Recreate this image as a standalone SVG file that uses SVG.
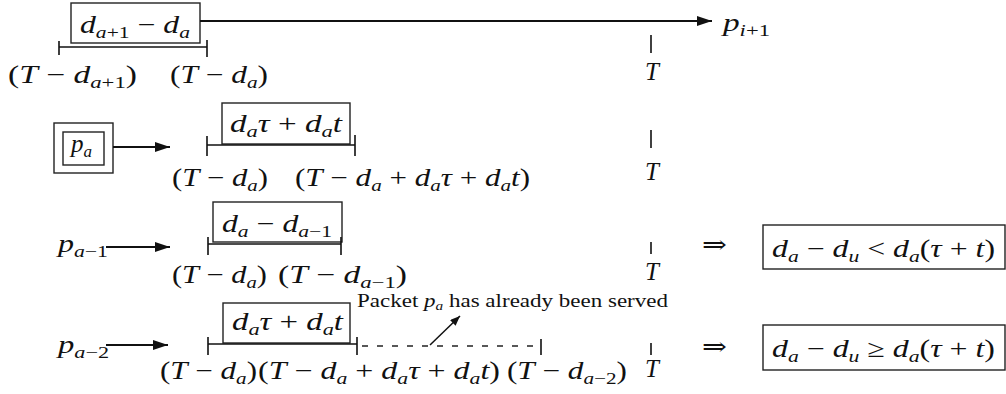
<svg xmlns="http://www.w3.org/2000/svg" width="1006" height="394" viewBox="0 0 1006 394" font-family="Liberation Serif, DejaVu Serif, serif">
<style>
.bg{fill:#fff}
.m{font-family:"Liberation Serif","DejaVu Serif",serif;font-size:25px;fill:#111}
.i{font-style:italic}
.s{font-size:17px}
.sm{font-family:"Liberation Serif","DejaVu Serif",serif;font-size:18px;fill:#111}
.box{fill:none;stroke:#222;stroke-width:1.4}
.ln{fill:none;stroke:#111;stroke-width:1.7}
.tk{fill:none;stroke:#111;stroke-width:1.6}
.dash{fill:none;stroke:#222;stroke-width:1.3;stroke-dasharray:6 9}
.arr{fill:none;stroke:#111;stroke-width:2;marker-end:url(#ah)}
.arr2{fill:none;stroke:#111;stroke-width:1.5;marker-end:url(#ah2)}
</style>
<defs>
<marker id="ah" viewBox="0 0 15 10" refX="15" refY="5" markerWidth="15" markerHeight="10" markerUnits="userSpaceOnUse" orient="auto"><path d="M0,0 L15,5 L0,10 z" fill="#111"/></marker>
<marker id="ah2" viewBox="0 0 10 8" refX="10" refY="4" markerWidth="10" markerHeight="8" markerUnits="userSpaceOnUse" orient="auto"><path d="M0,0 L10,4 L0,8 z" fill="#111"/></marker>
</defs>
<rect class="bg" x="0" y="0" width="1006" height="394"/>

<g id="row1">
<rect class="box" x="71" y="3" width="129" height="40"/>
<text class="m" x="80" y="33" textLength="110" lengthAdjust="spacingAndGlyphs"><tspan class="i">d</tspan><tspan class="s i" dy="5">a</tspan><tspan class="s" dy="0">+1</tspan><tspan dy="-5"> − </tspan><tspan class="i">d</tspan><tspan class="s i" dy="5">a</tspan></text>
<path class="ln" d="M59,47 H207"/>
<path class="tk" d="M59,41 V55 M207,40 V57"/>
<text class="m" x="8" y="83" textLength="129" lengthAdjust="spacingAndGlyphs">(<tspan class="i">T</tspan> − <tspan class="i">d</tspan><tspan class="s i" dy="5">a</tspan><tspan class="s">+1</tspan><tspan dy="-5">)</tspan></text>
<text class="m" x="170" y="83" textLength="98" lengthAdjust="spacingAndGlyphs">(<tspan class="i">T</tspan> − <tspan class="i">d</tspan><tspan class="s i" dy="5">a</tspan><tspan dy="-5">)</tspan></text>
<path class="tk" d="M651,35 V53"/>
<text class="m i" x="645" y="80">T</text>
<text class="m" x="723" y="31" textLength="47" lengthAdjust="spacingAndGlyphs"><tspan class="i">p</tspan><tspan class="s" dy="5"><tspan class="i">i</tspan>+1</tspan></text>
</g>

<g id="row2">
<g id="pa">
<rect class="box" x="54" y="123" width="59" height="50"/>
<rect class="box" x="63" y="132" width="41" height="33"/>
<text class="m" x="71" y="152"><tspan class="i">p</tspan><tspan class="s i" dy="5">a</tspan></text>
</g>
<rect class="box" x="222" y="103" width="128" height="41"/>
<text class="m" x="230" y="132" textLength="112" lengthAdjust="spacingAndGlyphs"><tspan class="i">d</tspan><tspan class="s i" dy="5">a</tspan><tspan class="i" dy="-5">τ</tspan> + <tspan class="i">d</tspan><tspan class="s i" dy="5">a</tspan><tspan class="i" dy="-5">t</tspan></text>
<path class="ln" d="M207,145 H355"/>
<path class="tk" d="M207,136 V156 M355,135 V156"/>
<text class="m" x="172" y="186" textLength="96" lengthAdjust="spacingAndGlyphs">(<tspan class="i">T</tspan> − <tspan class="i">d</tspan><tspan class="s i" dy="5">a</tspan><tspan dy="-5">)</tspan></text>
<text class="m" x="295" y="186" textLength="235" lengthAdjust="spacingAndGlyphs">(<tspan class="i">T</tspan> − <tspan class="i">d</tspan><tspan class="s i" dy="5">a</tspan><tspan dy="-5"> + </tspan><tspan class="i">d</tspan><tspan class="s i" dy="5">a</tspan><tspan class="i" dy="-5">τ</tspan> + <tspan class="i">d</tspan><tspan class="s i" dy="5">a</tspan><tspan class="i" dy="-5">t</tspan>)</text>
<path class="tk" d="M651,130 V148"/>
<text class="m i" x="645" y="180">T</text>
</g>

<g id="row3">
<text class="m" x="58" y="252" textLength="50" lengthAdjust="spacingAndGlyphs"><tspan class="i">p</tspan><tspan class="s" dy="5"><tspan class="i">a</tspan>−1</tspan></text>
<rect class="box" x="213" y="202" width="129" height="40"/>
<text class="m" x="222" y="232" textLength="110" lengthAdjust="spacingAndGlyphs"><tspan class="i">d</tspan><tspan class="s i" dy="5">a</tspan><tspan dy="-5"> − </tspan><tspan class="i">d</tspan><tspan class="s" dy="5"><tspan class="i">a</tspan>−1</tspan></text>
<path class="ln" d="M208,244 H341"/>
<path class="tk" d="M208,237 V255 M341,237 V255"/>
<text class="m" x="172" y="283" textLength="95" lengthAdjust="spacingAndGlyphs">(<tspan class="i">T</tspan> − <tspan class="i">d</tspan><tspan class="s i" dy="5">a</tspan><tspan dy="-5">)</tspan></text>
<text class="m" x="278" y="283" textLength="129" lengthAdjust="spacingAndGlyphs">(<tspan class="i">T</tspan> − <tspan class="i">d</tspan><tspan class="s" dy="5"><tspan class="i">a</tspan>−1</tspan><tspan dy="-5">)</tspan></text>
<path class="tk" d="M651,242 V254"/>
<text class="m i" x="645" y="280">T</text>
<text class="m" x="702" y="253" textLength="25" lengthAdjust="spacingAndGlyphs">⇒</text>
<rect class="box" x="763" y="225" width="242" height="44"/>
<text class="m" x="772" y="257" textLength="223" lengthAdjust="spacingAndGlyphs"><tspan class="i">d</tspan><tspan class="s i" dy="5">a</tspan><tspan dy="-5"> − </tspan><tspan class="i">d</tspan><tspan class="s i" dy="5">u</tspan><tspan dy="-5"> &lt; </tspan><tspan class="i">d</tspan><tspan class="s i" dy="5">a</tspan><tspan dy="-5">(</tspan><tspan class="i">τ</tspan> + <tspan class="i">t</tspan>)</text>
</g>

<g id="row4">
<text class="sm" x="357" y="307" textLength="311" lengthAdjust="spacingAndGlyphs">Packet <tspan class="i">p</tspan><tspan font-size="12" class="i" dy="3">a</tspan><tspan dy="-3"> has already been served</tspan></text>
<text class="m" x="58" y="353" textLength="51" lengthAdjust="spacingAndGlyphs"><tspan class="i">p</tspan><tspan class="s" dy="5"><tspan class="i">a</tspan>−2</tspan></text>
<rect class="box" x="223" y="303" width="127" height="40"/>
<text class="m" x="232" y="330" textLength="111" lengthAdjust="spacingAndGlyphs"><tspan class="i">d</tspan><tspan class="s i" dy="5">a</tspan><tspan class="i" dy="-5">τ</tspan> + <tspan class="i">d</tspan><tspan class="s i" dy="5">a</tspan><tspan class="i" dy="-5">t</tspan></text>
<path class="ln" d="M208,344 H357"/>
<path class="tk" d="M208,337 V355 M357,337 V355 M541,339 V355"/>
<path class="dash" d="M362,346 H541"/>
<text class="m" x="160" y="379" textLength="97" lengthAdjust="spacingAndGlyphs">(<tspan class="i">T</tspan> − <tspan class="i">d</tspan><tspan class="s i" dy="5">a</tspan><tspan dy="-5">)</tspan></text>
<text class="m" x="258" y="379" textLength="242" lengthAdjust="spacingAndGlyphs">(<tspan class="i">T</tspan> − <tspan class="i">d</tspan><tspan class="s i" dy="5">a</tspan><tspan dy="-5"> + </tspan><tspan class="i">d</tspan><tspan class="s i" dy="5">a</tspan><tspan class="i" dy="-5">τ</tspan> + <tspan class="i">d</tspan><tspan class="s i" dy="5">a</tspan><tspan class="i" dy="-5">t</tspan>)</text>
<text class="m" x="507" y="379" textLength="120" lengthAdjust="spacingAndGlyphs">(<tspan class="i">T</tspan> − <tspan class="i">d</tspan><tspan class="s" dy="5"><tspan class="i">a</tspan>−2</tspan><tspan dy="-5">)</tspan></text>
<path class="tk" d="M651,343 V355"/>
<text class="m i" x="645" y="377">T</text>
<text class="m" x="702" y="355" textLength="25" lengthAdjust="spacingAndGlyphs">⇒</text>
<rect class="box" x="763" y="325" width="242" height="45"/>
<text class="m" x="772" y="357" textLength="223" lengthAdjust="spacingAndGlyphs"><tspan class="i">d</tspan><tspan class="s i" dy="5">a</tspan><tspan dy="-5"> − </tspan><tspan class="i">d</tspan><tspan class="s i" dy="5">u</tspan><tspan dy="-5"> ≥ </tspan><tspan class="i">d</tspan><tspan class="s i" dy="5">a</tspan><tspan dy="-5">(</tspan><tspan class="i">τ</tspan> + <tspan class="i">t</tspan>)</text>
</g>

<g id="connectors">
<path class="arr" d="M200,21 H712"/>
<path class="arr" d="M113,147 H170"/>
<path class="arr" d="M106,247 H170"/>
<path class="arr" d="M106,345 H168"/>
<path class="arr2" d="M430,345 L460,316"/>
</g>
</svg>
